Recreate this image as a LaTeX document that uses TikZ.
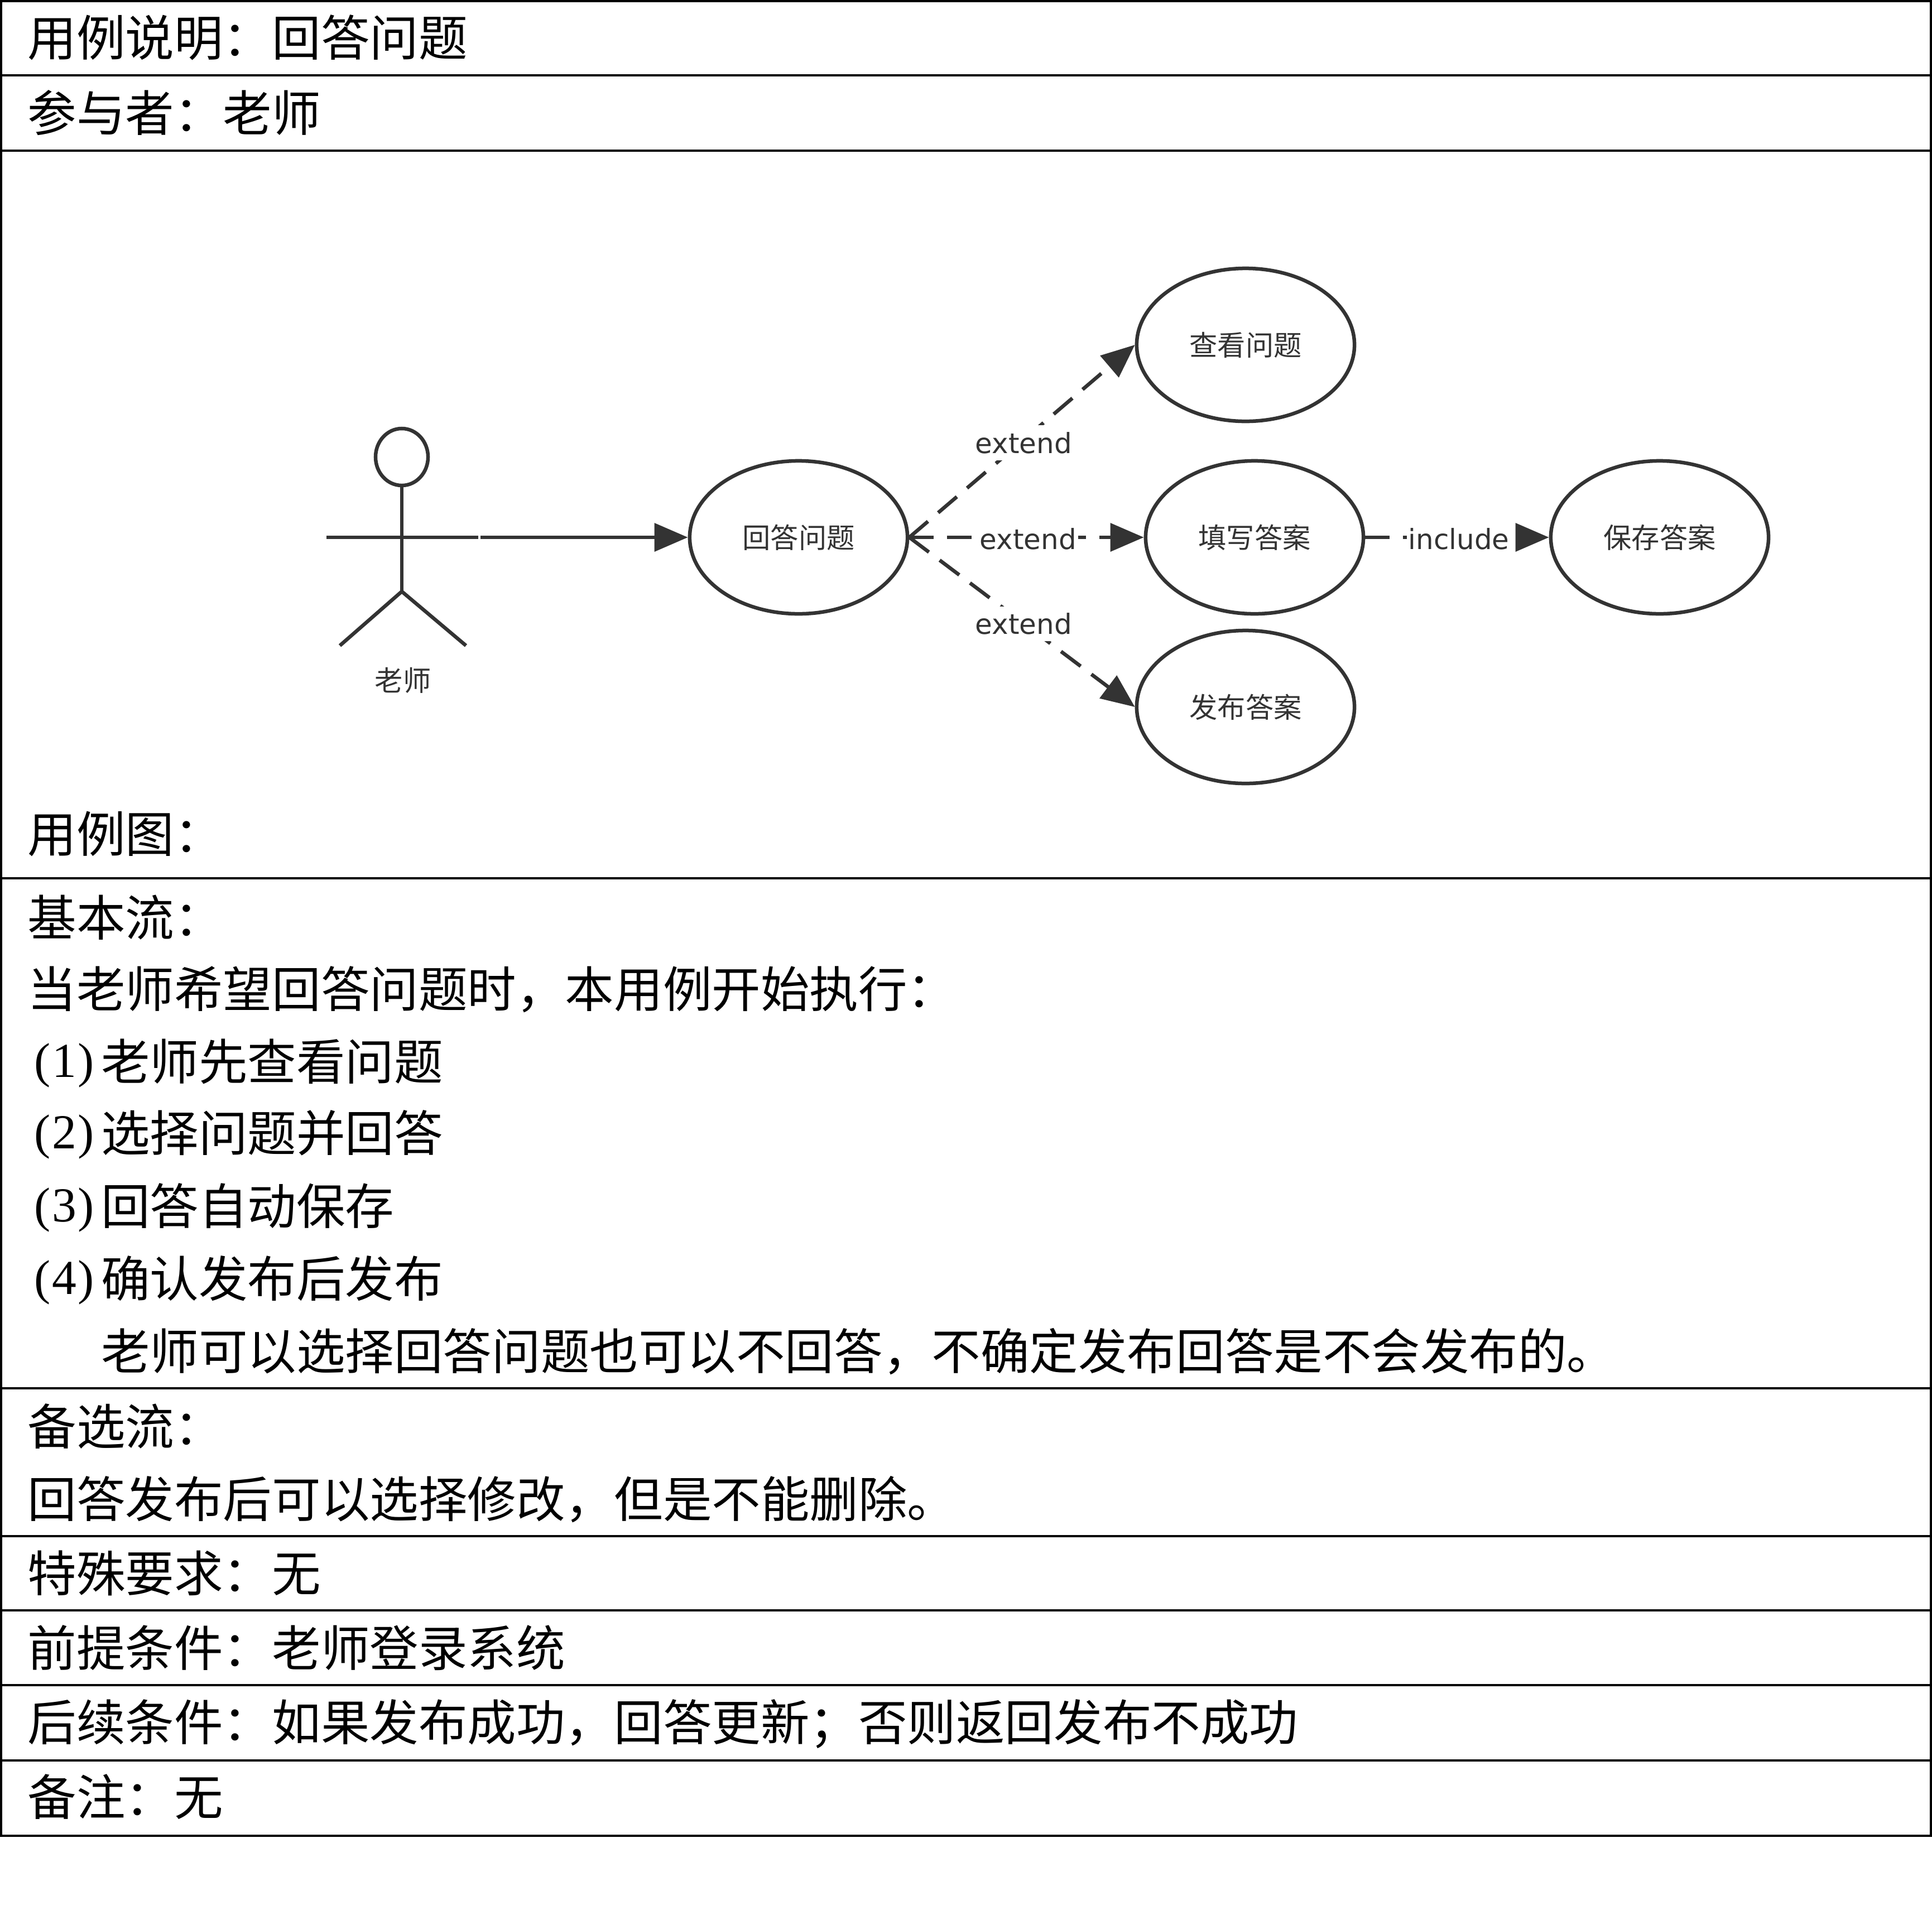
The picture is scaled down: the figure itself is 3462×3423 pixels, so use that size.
\documentclass[tikz,border=0pt]{standalone}
\usepackage{fontspec}
\setmainfont{Noto Sans CJK SC}
\newfontfamily\numfont{Liberation Serif}
\newfontfamily\labelfont{DejaVu Sans}
\usetikzlibrary{arrows.meta,shapes.geometric}
\definecolor{inkgray}{HTML}{333333}
\newcommand{\numitem}[1]{\makebox[1.5em][c]{\raisebox{0.06em}{\numfont(\kern0.03em#1\kern0.03em)}}}
\newcommand{\colonzh}{^^^^ff1a}
\newcommand{\commazh}{^^^^ff0c}
\newcommand{\semizh}{^^^^ff1b}
\tikzset{
	rowtext/.style={anchor=west,inner sep=0pt,yshift=-0.2cm,text height=0.85em,text depth=0.12em,font=\fontsize{24.9pt}{30pt}\selectfont},
	rule/.style={black,line width=0.04cm},
	usecase/.style={ellipse,draw=inkgray,fill=white,line width=0.065cm,minimum width=3.9cm,minimum height=2.74cm,inner sep=0pt,text=inkgray,text height=1.15em,text depth=0.04em,font=\fontsize{14.3pt}{17pt}\selectfont},
	actorline/.style={draw=inkgray,line width=0.065cm},
	dep/.style={draw=inkgray,line width=0.065cm,dash pattern=on 0.44cm off 0.24cm,-{Triangle[length=0.6cm,width=0.5cm]}},
	deplabel/.style={midway,fill=white,text=inkgray,inner xsep=0.03cm,inner ysep=0.12cm,xshift=0.03cm,yshift=-0.03cm,font=\labelfont\fontsize{14.2pt}{17pt}\selectfont}
}
\begin{document}
\begin{tikzpicture}[x=0.01cm,y=-0.01cm]
	\useasboundingbox (0,0) rectangle (3462,3423);
	% table frame
	\foreach \y in {2,135,270,1574,2488,2753,2886,3020,3155,3290}
		\draw[rule] (0,\y) -- (3462,\y);
	\draw[rule] (2,0) -- (2,3290);
	\draw[rule] (3460,0) -- (3460,3290);
	% table text
	\foreach \n/\y/\t in {
		0/68/{用例说明\colonzh 回答问题},
		1/203/{参与者\colonzh 老师},
		2/1495/{用例图\colonzh},
		3/1645/{基本流\colonzh},
		4/1773/{当老师希望回答问题时\commazh 本用例开始执行\colonzh},
		5/1903/{\numitem{1}老师先查看问题},
		6/2031/{\numitem{2}选择问题并回答},
		7/2162/{\numitem{3}回答自动保存},
		8/2292/{\numitem{4}确认发布后发布},
		9/2422/{\hspace*{1.5em}老师可以选择回答问题也可以不回答\commazh 不确定发布回答是不会发布的。},
		10/2557/{备选流\colonzh},
		11/2687/{回答发布后可以选择修改\commazh 但是不能删除。},
		12/2820/{特殊要求\colonzh 无},
		13/2954/{前提条件\colonzh 老师登录系统},
		14/3087/{后续条件\colonzh 如果发布成功\commazh 回答更新\semizh 否则返回发布不成功},
		15/3221/{备注\colonzh 无}}
		\node[rowtext] (row_\n) at (49,\y) {\t};
	% actor
	\node[ellipse,draw=inkgray,line width=0.065cm,minimum width=0.94cm,minimum height=1.02cm,inner sep=0pt] (head) at (720,819) {};
	\coordinate (hip) at (720,1060);
	\coordinate (arm_l) at (585,963);
	\coordinate (arm_r) at (857,963);
	\coordinate (leg_l) at (609,1157);
	\coordinate (leg_r) at (835,1157);
	\draw[actorline] (head.south) -- (hip);
	\draw[actorline] (arm_l) -- (arm_r);
	\draw[actorline] (leg_l) -- (hip) -- (leg_r);
	\node[text=inkgray,font=\fontsize{14.3pt}{17pt}\selectfont] (actor) at (722,1219) {老师};
	% use cases
	\node[usecase] (uc_0) at (1431,963) {回答问题};
	\node[usecase] (uc_1) at (2232,618) {查看问题};
	\node[usecase] (uc_2) at (2248,963) {填写答案};
	\node[usecase] (uc_3) at (2232,1267) {发布答案};
	\node[usecase] (uc_4) at (2974,963) {保存答案};
	\coordinate (start) at (861,963);
	\draw[draw=inkgray,line width=0.065cm,-{Triangle[length=0.6cm,width=0.5cm]}] (start) -- (uc_0.west);
	\path
		(uc_0.east) edge[dep] node[deplabel] {extend} (uc_1.west)
		(uc_0.east) edge[dep] node[deplabel] {extend} (uc_2.west)
		(uc_0.east) edge[dep] node[deplabel] {extend} (uc_3.west)
		(uc_2.east) edge[dep] node[deplabel] {include} (uc_4.west);
\end{tikzpicture}
\end{document}
